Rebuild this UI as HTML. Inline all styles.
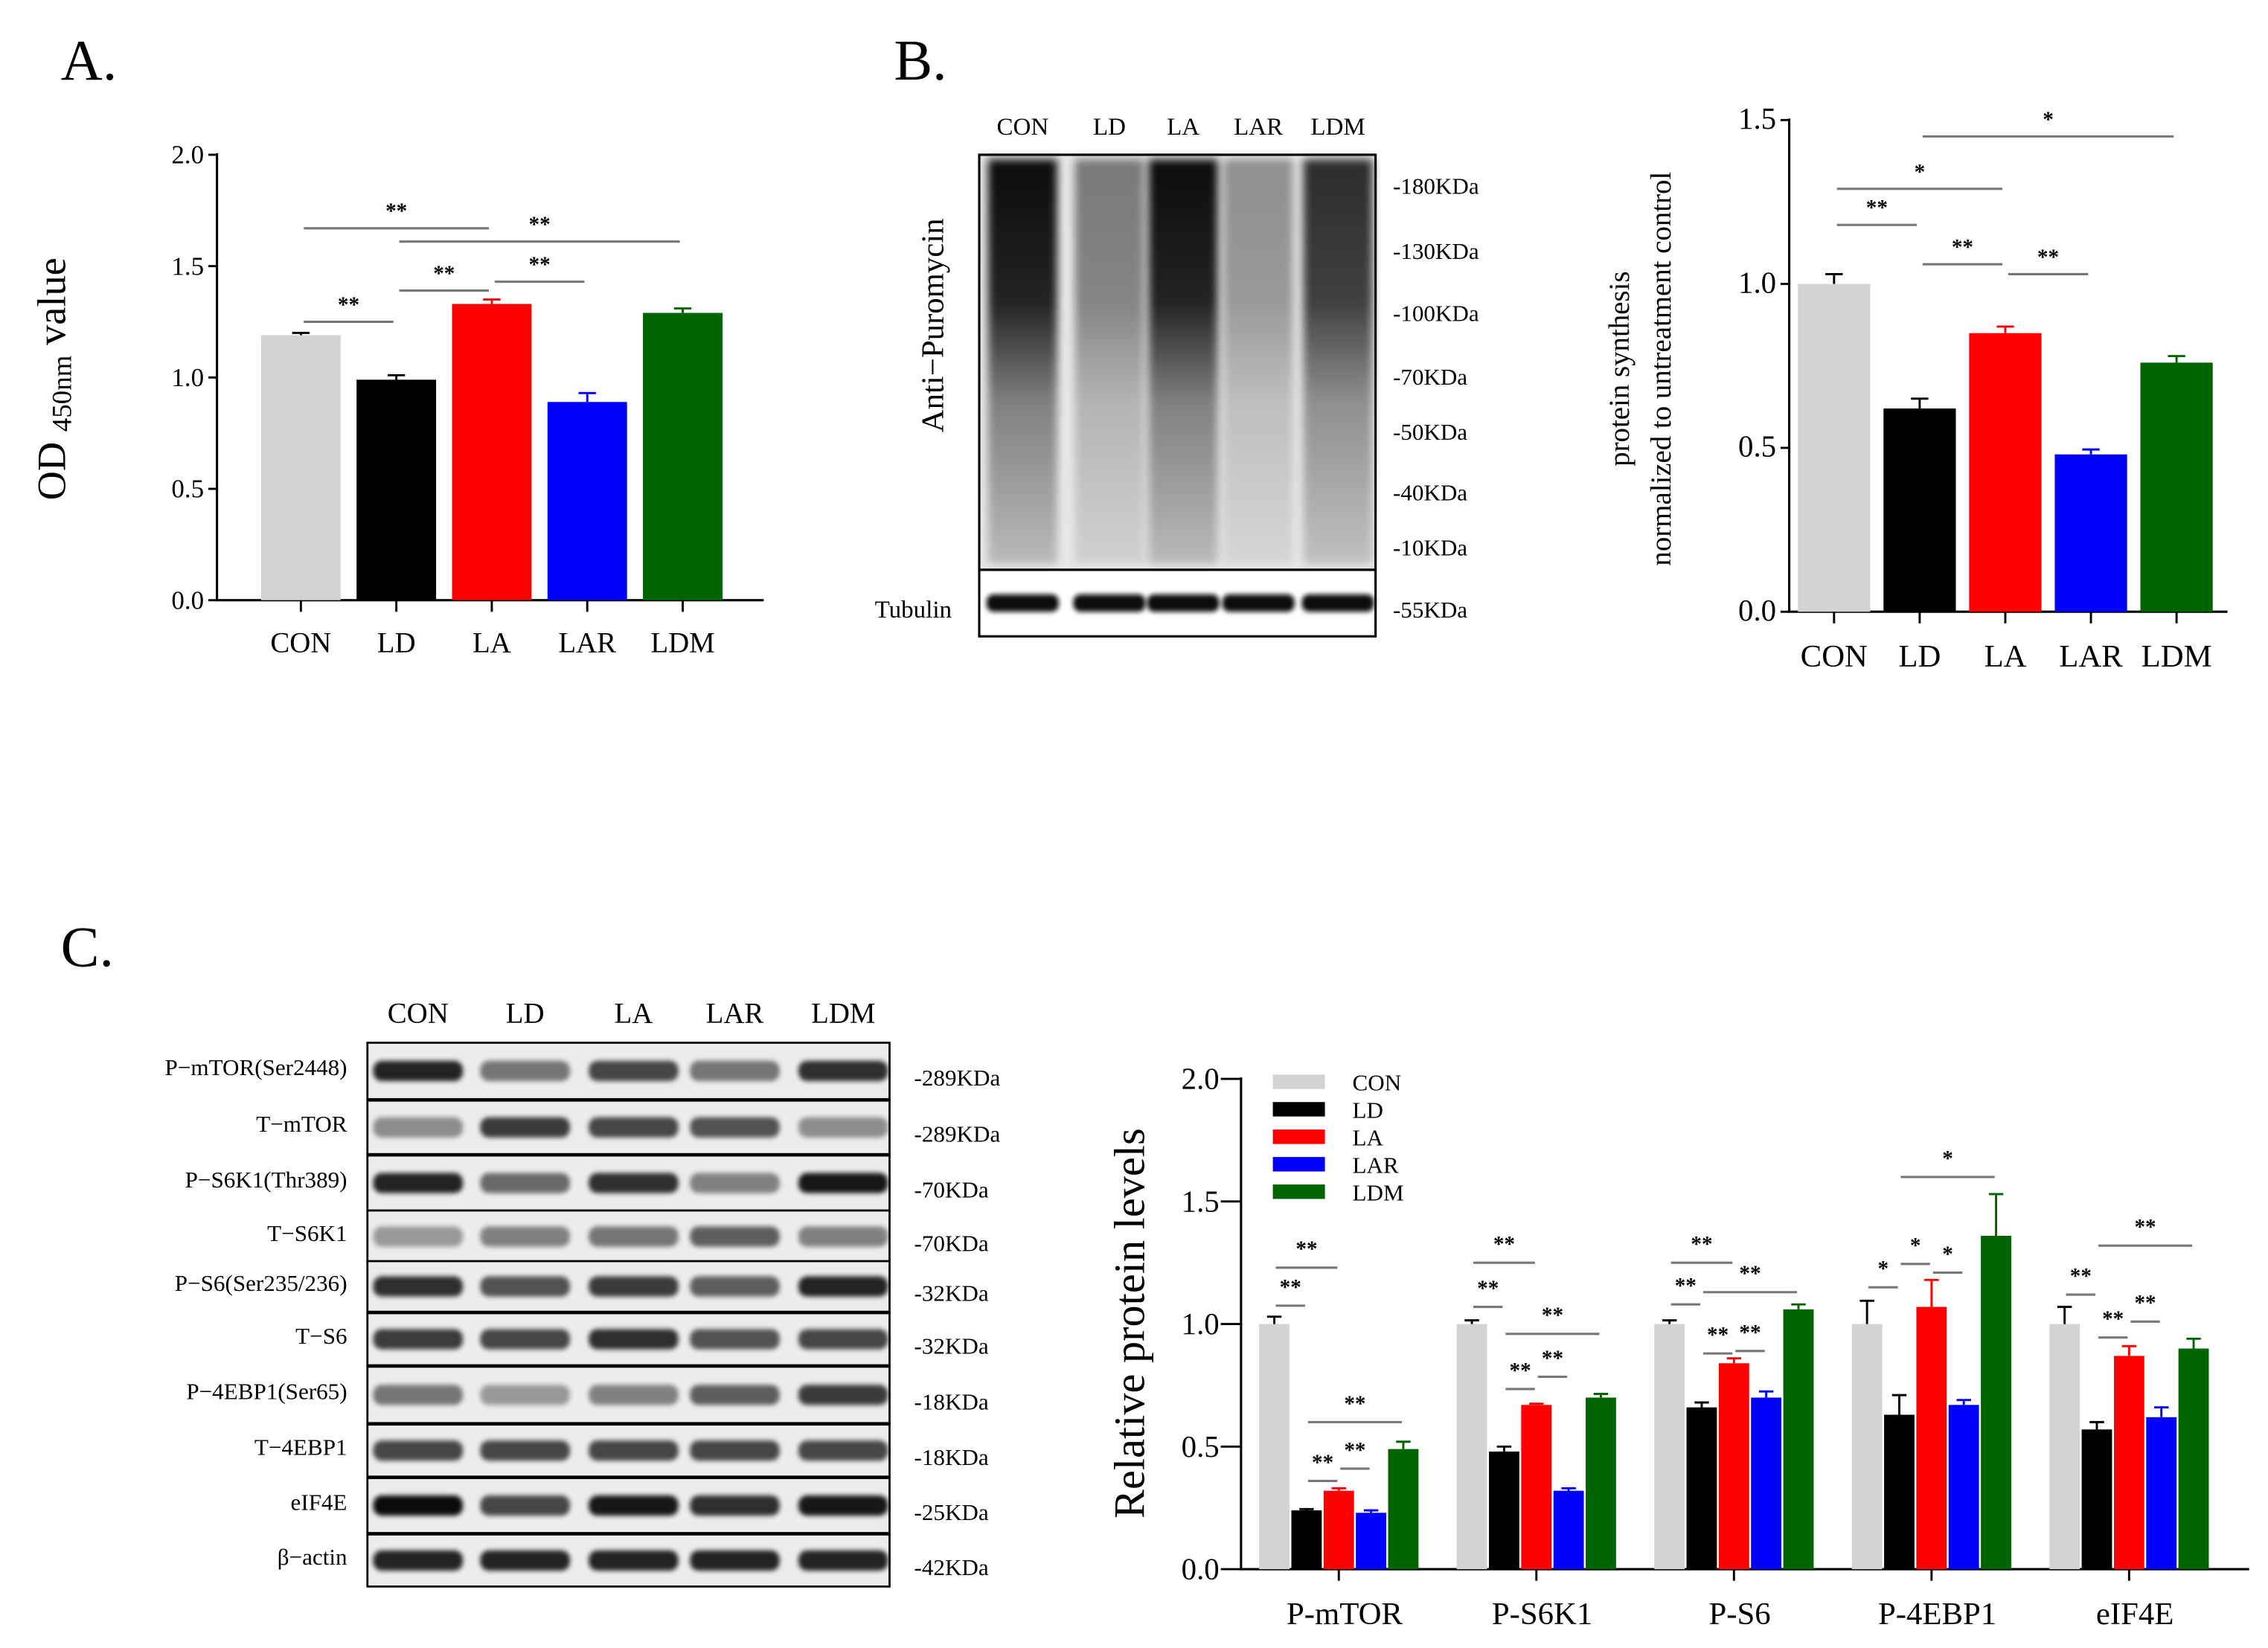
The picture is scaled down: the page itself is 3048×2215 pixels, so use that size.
<!DOCTYPE html>
<html><head><meta charset="utf-8"><style>
html,body{margin:0;padding:0;background:#fff}
svg{display:block}
text{font-family:"Liberation Serif",serif;fill:#000}
</style></head><body>
<svg id="fig" width="3048" height="2215" viewBox="0 0 1568 1139.5" xmlns="http://www.w3.org/2000/svg">
<defs>
<filter id="bl" x="-30%" y="-50%" width="160%" height="200%"><feGaussianBlur stdDeviation="3"/></filter>
<filter id="bl2" x="-30%" y="-50%" width="160%" height="200%"><feGaussianBlur stdDeviation="1.6"/></filter>
<linearGradient id="smear" x1="0" y1="0" x2="0" y2="1">
<stop offset="0" stop-color="#000" stop-opacity="0.95"/><stop offset="0.35" stop-color="#000" stop-opacity="0.85"/><stop offset="0.6" stop-color="#000" stop-opacity="0.45"/><stop offset="1" stop-color="#000" stop-opacity="0.2"/></linearGradient>
</defs>
<text x="42" y="55" font-size="40">A.</text>
<text x="618" y="55" font-size="40">B.</text>
<text x="42" y="668" font-size="40">C.</text>
<g id="gA"></g>
<g id="gBblot"></g>
<g id="gB"></g>
<g id="gCblot"></g>
<g id="gC"></g>
</svg>
<script>
const groups = ["CON","LD","LA","LAR","LDM"];
const colors = ["#d3d3d3","#000000","#ff0000","#0000ff","#006400"];
const aValues = [1.19,0.99,1.33,0.89,1.29];
const aErrors = [0.01,0.02,0.02,0.04,0.02];
const aTicks = [0,0.5,1.0,1.5,2.0];
const aSig = [[0,2,1.67,"**"],[0,1,1.25,"**"],[1,2,1.39,"**"],[2,3,1.43,"**"],[1,4,1.61,"**"]];
const bValues = [1.0,0.62,0.85,0.48,0.76];
const bErrors = [0.03,0.03,0.02,0.015,0.02];
const bTicks = [0,0.5,1.0,1.5];
const bSig = [[1,4,1.45,"*"],[0,2,1.29,"*"],[0,1,1.18,"**"],[1,2,1.06,"**"],[2,3,1.03,"**"]];
const cCategories = ["P-mTOR","P-S6K1","P-S6","P-4EBP1","eIF4E"];
const cValues = [[1.0,0.24,0.32,0.23,0.49],[1.0,0.48,0.67,0.32,0.70],[1.0,0.66,0.84,0.70,1.06],[1.0,0.63,1.07,0.67,1.36],[1.0,0.57,0.87,0.62,0.90]];
const cErrors = [[0.03,0.005,0.01,0.01,0.03],[0.015,0.02,0.005,0.01,0.015],[0.015,0.02,0.02,0.025,0.02],[0.095,0.08,0.11,0.02,0.17],[0.07,0.03,0.04,0.04,0.04]];
const cTicks = [0,0.5,1.0,1.5,2.0];
const cSig = [
[0,0,2,1.23,"**"],[0,0,1,1.075,"**"],[0,1,2,0.36,"**"],[0,2,3,0.41,"**"],[0,1,4,0.60,"**"],
[1,0,2,1.25,"**"],[1,0,1,1.07,"**"],[1,1,4,0.96,"**"],[1,1,2,0.735,"**"],[1,2,3,0.785,"**"],
[2,0,2,1.25,"**"],[2,0,1,1.08,"**"],[2,1,4,1.13,"**"],[2,1,2,0.88,"**"],[2,2,3,0.89,"**"],
[3,1,4,1.60,"*"],[3,0,1,1.15,"*"],[3,1,2,1.245,"*"],[3,2,3,1.21,"*"],
[4,1,4,1.32,"**"],[4,0,1,1.12,"**"],[4,1,2,0.945,"**"],[4,2,3,1.01,"**"]];
const bMarkers = [["-180KDa",128],["-130KDa",173],["-100KDa",216],["-70KDa",260],["-50KDa",298],["-40KDa",340],["-10KDa",378],["-55KDa",421]];
const cRows = ["P\u2212mTOR(Ser2448)","T\u2212mTOR","P\u2212S6K1(Thr389)","T\u2212S6K1","P\u2212S6(Ser235/236)","T\u2212S6","P\u22124EBP1(Ser65)","T\u22124EBP1","eIF4E","\u03b2\u2212actin"];
const cRowMarkers = ["-289KDa","-289KDa","-70KDa","-70KDa","-32KDa","-32KDa","-18KDa","-18KDa","-25KDa","-42KDa"];
const cBandIntensity = [[0.85,0.5,0.7,0.5,0.8],[0.4,0.75,0.7,0.65,0.4],[0.85,0.55,0.8,0.45,0.9],[0.35,0.45,0.5,0.6,0.45],[0.8,0.65,0.75,0.6,0.85],[0.75,0.7,0.8,0.65,0.7],[0.5,0.35,0.45,0.6,0.75],[0.7,0.7,0.7,0.7,0.7],[0.95,0.7,0.9,0.8,0.9],[0.85,0.85,0.85,0.85,0.85]];

const NS="http://www.w3.org/2000/svg";
function mk(parent,tag,attrs,txt){const e=document.createElementNS(NS,tag);for(const k in attrs)e.setAttribute(k,attrs[k]);if(txt!==undefined)e.textContent=txt;parent.appendChild(e);return e;}

function barChart(g,o){
  const y=v=>o.y0-(v/o.ymax)*(o.y0-o.ytop);
  const ax=mk(g,'path',{d:`M${o.x0},${o.ytop-1}V${o.y0}H${o.x1}`,stroke:'#000','stroke-width':1.6,fill:'none'});
  
  
  o.ticks.forEach(t=>{
    mk(g,'line',{x1:o.x0-6,x2:o.x0,y1:y(t),y2:y(t),stroke:'#000','stroke-width':1.5});
    const tl=mk(g,'text',{x:o.x0-9,y:y(t)+6,'font-size':o.tfs,'text-anchor':'end'},t.toFixed(1));
    
    
  });
  o.values.forEach((v,i)=>{
    const cx=o.cx(i);
    const r=mk(g,'rect',{x:cx-o.bw/2,y:y(v),width:o.bw,height:o.y0-y(v),fill:colors[i]});
    
    
    const et=y(v+o.errors[i]);
    mk(g,'path',{d:`M${cx},${y(v)}V${et}M${cx-6},${et}H${cx+6}`,stroke:colors[i]==="#d3d3d3"?"#000":colors[i],'stroke-width':1.5});
    mk(g,'line',{x1:cx,x2:cx,y1:o.y0,y2:o.y0+8,stroke:'#000','stroke-width':1.5});
    const lb=mk(g,'text',{x:cx,y:o.y0+o.lblOff,'font-size':o.lfs,'text-anchor':'middle'},groups[i]);
    
    
  });
  o.sig.forEach(s=>{
    const yy=y(s[2]);const xa=o.cx(s[0])+2,xb=o.cx(s[1])-2;
    mk(g,'line',{x1:xa,x2:xb,y1:yy,y2:yy,stroke:'#777','stroke-width':1.6});
    const st=mk(g,'text',{x:(xa+xb)/2,y:yy-7,'font-size':15,'font-weight':'bold','text-anchor':'middle'},s[3]);
    
    
  });
  return y;
}

// Chart A
const gA=document.getElementById('gA');
barChart(gA,{x0:150,x1:528,y0:415,ytop:107,ymax:2,ticks:aTicks,values:aValues,errors:aErrors,sig:aSig,bw:55,cx:i=>208+i*66,tfs:18,lfs:20,lblOff:36});
const ya=mk(gA,'text',{transform:'translate(45,262) rotate(-90)','font-size':28,'text-anchor':'middle'});


ya.innerHTML='OD <tspan font-size="19" dy="4">450nm</tspan><tspan dy="-4"> value</tspan>';

// Chart B
const gB=document.getElementById('gB');
barChart(gB,{x0:1237,x1:1540,y0:423,ytop:83,ymax:1.5,ticks:bTicks,values:bValues,errors:bErrors,sig:bSig,bw:50,cx:i=>1268+i*59.2,tfs:21,lfs:22,lblOff:38});
const yb1=mk(gB,'text',{transform:'translate(1126,255) rotate(-90)','font-size':20,'text-anchor':'middle'},'protein synthesis');


const yb2=mk(gB,'text',{transform:'translate(1155,255) rotate(-90)','font-size':20,'text-anchor':'middle'},'normalized to untreatment control');



// Blot B
const gBb=document.getElementById('gBblot');
const laneB=[707,767,818,870,925];
const sdark=[1.0,0.5,1.0,0.4,0.85];
groups.forEach((gname,i)=>{
  const t=mk(gBb,'text',{x:laneB[i],y:93,'font-size':17,'text-anchor':'middle'},gname);
  
  
});
mk(gBb,'rect',{x:677,y:107,width:274,height:287,fill:'#e8e8e8'});
laneB.forEach((cx,i)=>{
  const l=mk(gBb,'rect',{x:cx-24,y:110,width:48,height:280,fill:'url(#smear)',opacity:sdark[i],filter:'url(#bl)'});
  
  
  mk(gBb,'rect',{x:cx-25,y:411,width:50,height:12,rx:5,fill:'#111',filter:'url(#bl2)'});
});
mk(gBb,'rect',{x:677,y:107,width:274,height:287,fill:'none',stroke:'#000','stroke-width':1.6});
mk(gBb,'rect',{x:677,y:394,width:274,height:46,fill:'none',stroke:'#000','stroke-width':1.6});
bMarkers.forEach(m=>{const t=mk(gBb,'text',{x:963,y:m[1]+6,'font-size':16},m[0]);});
const ap=mk(gBb,'text',{transform:'translate(652,225) rotate(-90)','font-size':22,'text-anchor':'middle'},'Anti\u2212Puromycin');

const tb=mk(gBb,'text',{x:658,y:427,'font-size':17,'text-anchor':'end'},'Tubulin');


// Blot C
const gCb=document.getElementById('gCblot');
const laneC=[289,363,438,508,583];
groups.forEach((gname,i)=>{const t=mk(gCb,'text',{x:laneC[i],y:707,'font-size':20,'text-anchor':'middle'},gname);});
const rowTop=[721,761,799,837,872,908,945,985,1022,1061];
const rowBot=[760,798,837,873,907,944,984,1021,1060,1097];
cRows.forEach((name,r)=>{
  const y0=rowTop[r],h=rowBot[r]-y0,cy=y0+h/2;
  mk(gCb,'rect',{x:254,y:y0,width:361,height:h,fill:'#ececec',stroke:'#000','stroke-width':1.4});
  laneC.forEach((cx,i)=>{
    const b=mk(gCb,'rect',{x:cx-31,y:cy-7,width:62,height:14,rx:6,fill:'#000',opacity:cBandIntensity[r][i],filter:'url(#bl2)'});
    
    
  });
  const t=mk(gCb,'text',{x:240,y:y0+h/2-3+6,'font-size':16,'text-anchor':'end'},name);
  
  const m=mk(gCb,'text',{x:632,y:cy+10,'font-size':16},cRowMarkers[r]);
  
});

// Chart C
const gC=document.getElementById('gC');
const cx0=858,cxe=1555,cy0=1085,cyt=746,cymax=2;
const yc=v=>cy0-(v/cymax)*(cy0-cyt);
const bx=(g,i)=>881+g*136.6+i*22.3;
const axc=mk(gC,'path',{d:`M${cx0},${cyt-1}V${cy0}H${cxe}`,stroke:'#000','stroke-width':1.6,fill:'none'});

cTicks.forEach(t=>{
  mk(gC,'line',{x1:cx0-14,x2:cx0,y1:yc(t),y2:yc(t),stroke:'#000','stroke-width':1.5});
  const tl=mk(gC,'text',{x:cx0-15,y:yc(t)+7,'font-size':21,'text-anchor':'end'},t.toFixed(1));
  
});
cCategories.forEach((cat,g)=>{
  cValues[g].forEach((v,i)=>{
    const cx=bx(g,i);
    const r=mk(gC,'rect',{x:cx-10.5,y:yc(v),width:21,height:cy0-yc(v),fill:colors[i]});
    
    
    const et=yc(v+cErrors[g][i]);
    mk(gC,'path',{d:`M${cx},${yc(v)}V${et}M${cx-5},${et}H${cx+5}`,stroke:colors[i]==="#d3d3d3"?"#000":colors[i],'stroke-width':1.5});
  });
  const mid=bx(g,2);
  mk(gC,'line',{x1:mid,x2:mid,y1:cy0,y2:cy0+8,stroke:'#000','stroke-width':1.5});
  const lb=mk(gC,'text',{x:mid+4,y:cy0+38,'font-size':22,'text-anchor':'middle'},cat);
  
});
cSig.forEach(s=>{
  const yy=yc(s[3]);const xa=bx(s[0],s[1])+1,xb=bx(s[0],s[2])-1;
  mk(gC,'line',{x1:xa,x2:xb,y1:yy,y2:yy,stroke:'#777','stroke-width':1.6});
  const st=mk(gC,'text',{x:(xa+xb)/2,y:yy-8,'font-size':15,'font-weight':'bold','text-anchor':'middle'},s[4]);
  
});
groups.forEach((gname,i)=>{
  const y=748+i*19;
  const sw=mk(gC,'rect',{x:880,y:y-5,width:36,height:10,fill:colors[i]});
  
  const t=mk(gC,'text',{x:935,y:y+6,'font-size':16},gname);
  
});
const yct=mk(gC,'text',{transform:'translate(791,915) rotate(-90)','font-size':30,'text-anchor':'middle'},'Relative protein levels');

</script>
</body></html>
